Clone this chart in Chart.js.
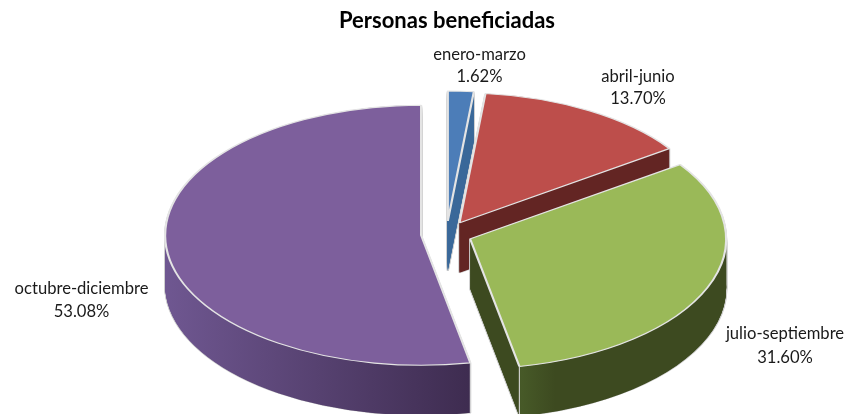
<!DOCTYPE html>
<html>
<head>
<meta charset="utf-8">
<style>html,body{margin:0;padding:0;background:#fff}canvas{display:block}</style>
<script src="https://cdn.jsdelivr.net/npm/chart.js@4"></script>
</head>
<body>
<canvas id="c" width="848" height="414"></canvas>
<script>
const categories = ['enero-marzo', 'abril-junio', 'julio-septiembre', 'octubre-diciembre'];
const shares = [1.62, 13.70, 31.60, 53.08];
const topColors = ['#4c7db8', '#bd4e4b', '#9ab958', '#7d5f9c'];
const sideColorsLeft = ['#3a6899', '#632523', '#475a28', '#6f5791'];
const sideColorsRight = ['#3a6899', '#632523', '#3d4a20', '#3e2c50'];
const chartTitle = 'Personas beneficiadas';

const RX = 256, RY = 130, CX = 446.5, CY = 234, DEPTH = 50, EXPLODE = 25.5;
const LABEL_FONT = '16.6px Lato, Carlito, sans-serif';
const LABEL_POS = [[479.5, 55, 77], [638, 77, 99], [785, 334, 358], [81.5, 289, 312]];

class Pie3D extends Chart.PieController {
  draw() {
    const ctx = this.chart.ctx;
    const arcs = this._cachedMeta.data;
    const R = arcs[0].outerRadius, ax = arcs[0].x, ay = arcs[0].y;
    const sx = RX / R, sy = RY / R;
    ctx.save();
    ctx.translate(CX, CY);
    ctx.scale(sx, sy);
    ctx.translate(-ax, -ay);
    arcs.forEach((arc, i) => {
      const base = arc.options;
      const half = (arc.startAngle + arc.endAngle) / 2;
      const dx = Math.cos(half) * EXPLODE / sx;
      const dy = Math.sin(half) * EXPLODE / sx;
      const paint = (shift, opts) => {
        const o = Object.create(base);
        Object.assign(o, opts);
        arc.options = o;
        ctx.save();
        ctx.translate(dx, dy + shift / sy);
        arc.draw(ctx);
        ctx.restore();
      };
      const aStart = arc.startAngle, aEnd = arc.endAngle;
      // gradient coordinates are taken in the slice's own translated space
      let grad;
      if (i === 2) {
        const corner = ax + Math.cos(aEnd) * R;
        grad = ctx.createLinearGradient(ax, 0, ax + R, 0);
        const f = (corner - ax) / R;
        grad.addColorStop(0, sideColorsRight[i]);
        grad.addColorStop(f, sideColorsRight[i]);
        grad.addColorStop(f + 0.005, sideColorsLeft[i]);
        grad.addColorStop(Math.min(1, f + 0.14), sideColorsRight[i]);
      } else {
        const gx1 = i === 3 ? ax + Math.cos(aStart) * R : ax + R;
        grad = ctx.createLinearGradient(ax - R, 0, gx1, 0);
        grad.addColorStop(0, sideColorsLeft[i]);
        grad.addColorStop(1, sideColorsRight[i]);
      }
      for (let s = DEPTH; s > 0; s -= 1) {
        paint(s, {backgroundColor: grad, borderColor: '#cfcfcf', borderWidth: 2});
      }
      for (let s = DEPTH; s > 0; s -= 0.5) {
        paint(s, {backgroundColor: grad, borderColor: grad, borderWidth: 0});
      }
      ctx.save();
      ctx.strokeStyle = '#d8d8d8';
      ctx.lineWidth = 1.1 / sx;
      [aStart, aEnd].forEach(a => {
        if (Math.sin(a) > 0.5) {
          const px = ax + dx + Math.cos(a) * R, py = ay + dy + Math.sin(a) * R;
          ctx.beginPath();
          ctx.moveTo(px, py);
          ctx.lineTo(px, py + DEPTH / sy);
          ctx.stroke();
        }
      });
      ctx.restore();
      paint(0, {backgroundColor: topColors[i], borderColor: '#e4e4e4', borderWidth: 2});
      arc.options = base;
    });
    ctx.restore();
  }
}
Pie3D.id = 'pie3d';
Pie3D.defaults = Chart.PieController.defaults;
Pie3D.overrides = Chart.PieController.overrides;
Chart.register(Pie3D);

const sliceLabels = {
  id: 'sliceLabels',
  afterDraw(chart) {
    const ctx = chart.ctx;
    ctx.save();
    ctx.font = LABEL_FONT;
    ctx.fillStyle = '#1a1a1a';
    ctx.textAlign = 'center';
    ctx.textBaseline = 'middle';
    categories.forEach((name, i) => {
      const p = LABEL_POS[i];
      ctx.fillText(name, p[0], p[1]);
      ctx.fillText(shares[i].toFixed(2) + '%', p[0], p[2]);
    });
    ctx.restore();
  }
};

new Chart(document.getElementById('c'), {
  type: 'pie3d',
  data: {
    labels: categories,
    datasets: [{data: shares, backgroundColor: topColors, borderColor: '#e4e4e4', borderWidth: 2, clip: false}]
  },
  options: {
    responsive: false,
    animation: false,
    radius: 230,
    layout: {padding: {left: 46}},
    plugins: {
      legend: {display: false},
      tooltip: {enabled: false},
      title: {
        display: true,
        text: chartTitle,
        color: '#000',
        font: {family: 'Lato, Carlito, sans-serif', size: 22, weight: 'bold'},
        padding: {top: 8, bottom: 4}
      }
    }
  },
  plugins: [sliceLabels]
});
</script>
</body>
</html>
